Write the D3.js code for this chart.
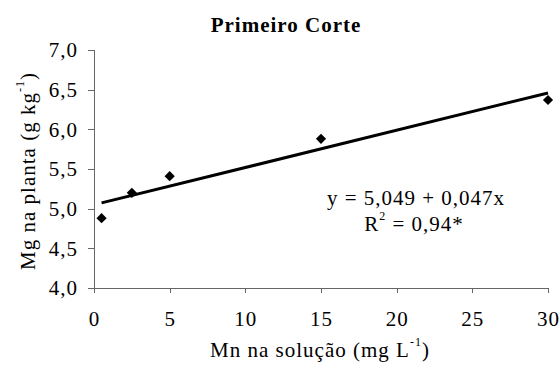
<!DOCTYPE html>
<meta charset="utf-8">
<style>
body { margin: 0; background: #fff; }
svg text { font-family: "Liberation Serif", "Times New Roman", serif; letter-spacing: 1px; fill: #000; }
.axis path, .axis line { stroke: #666; shape-rendering: crispEdges; }
</style>
<body>
<script src="https://cdn.jsdelivr.net/npm/d3@7/dist/d3.min.js"></script>
<script>
// data
var mnSolucao = [0.5, 2.5, 5, 15, 30];
var mgPlanta = [4.88, 5.20, 5.41, 5.88, 6.37];
var xTicks = [0, 5, 10, 15, 20, 25, 30];
var yTicks = [4.0, 4.5, 5.0, 5.5, 6.0, 6.5, 7.0];
var intercept = 5.049, slope = 0.047;

var width = 560, height = 377;
var margin = {top: 50, right: 12, bottom: 89, left: 94};
var fs = 21;

var x = d3.scaleLinear().domain([0, 30]).range([margin.left, width - margin.right]);
var y = d3.scaleLinear().domain([4, 7]).range([height - margin.bottom, margin.top]);

var fmt = function(d) { return d3.format(".1f")(d).replace(".", ","); };

var svg = d3.select("body").append("svg")
    .attr("width", width)
    .attr("height", height);

var gx = svg.append("g")
    .attr("class", "axis")
    .attr("transform", "translate(0," + y(4) + ")")
    .call(d3.axisBottom(x).tickValues(xTicks).tickSize(5).tickSizeOuter(5).tickPadding(18));
gx.attr("font-family", null).attr("font-size", fs);
gx.selectAll("text").attr("dy", "0.71em").style("font-size", fs + "px");

var gy = svg.append("g")
    .attr("class", "axis")
    .attr("transform", "translate(" + x(0) + ",0)")
    .call(d3.axisLeft(y).tickValues(yTicks).tickFormat(fmt).tickSize(6).tickSizeOuter(6).tickPadding(10));
gy.attr("font-family", null).attr("font-size", fs);
gy.selectAll("text").style("font-size", fs + "px");

// regression line
var line = d3.line().x(function(d) { return x(d); }).y(function(d) { return y(intercept + slope * d); });
svg.append("path")
    .datum([0.5, 30])
    .attr("d", line)
    .attr("fill", "none")
    .attr("stroke", "#000")
    .attr("stroke-width", 3);

// points
svg.selectAll(".pt")
    .data(mnSolucao)
  .enter().append("path")
    .attr("class", "pt")
    .attr("d", d3.symbol().type(d3.symbolSquare).size(52))
    .attr("transform", function(d, i) { return "translate(" + x(d) + "," + y(mgPlanta[i]) + ") rotate(45)"; })
    .attr("fill", "#000");

// title
svg.append("text")
    .attr("x", 286).attr("y", 32)
    .attr("text-anchor", "middle")
    .style("font-size", "21px").style("font-weight", "bold")
    .text("Primeiro Corte");

// equation
svg.append("text")
    .attr("x", 416).attr("y", 205)
    .attr("text-anchor", "middle")
    .style("font-size", fs + "px")
    .text("y = 5,049 + 0,047x");

var r2 = svg.append("text")
    .attr("x", 414).attr("y", 231)
    .attr("text-anchor", "middle")
    .style("font-size", fs + "px");
r2.append("tspan").text("R");
r2.append("tspan").attr("dy", -11).style("font-size", "12px").text("2");
r2.append("tspan").attr("dy", 11).text(" = 0,94*");

// x label
var xl = svg.append("text")
    .attr("x", 320).attr("y", 357)
    .attr("text-anchor", "middle")
    .style("font-size", fs + "px");
xl.append("tspan").text("Mn na solução (mg L");
xl.append("tspan").attr("dy", -11).style("font-size", "12px").text("-1");
xl.append("tspan").attr("dy", 11).text(")");

// y label
var yl = svg.append("text")
    .attr("transform", "translate(35,171) rotate(-90)")
    .attr("text-anchor", "middle")
    .style("font-size", fs + "px");
yl.append("tspan").text("Mg na planta (g kg");
yl.append("tspan").attr("dy", -11).style("font-size", "12px").text("-1");
yl.append("tspan").attr("dy", 11).text(")");
</script>
</body>
